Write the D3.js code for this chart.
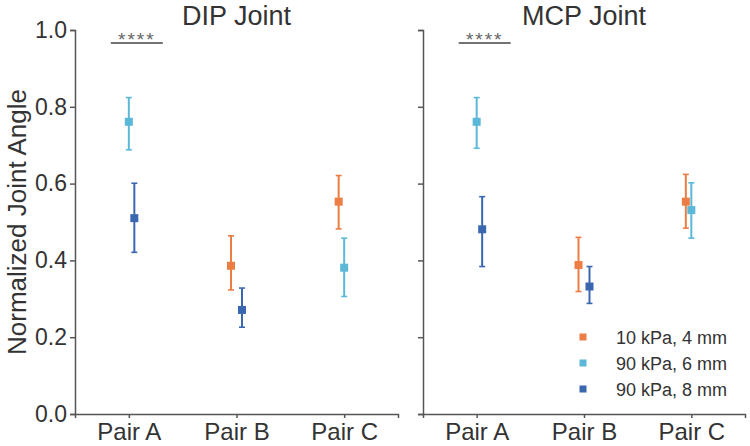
<!DOCTYPE html>
<html>
<head>
<meta charset="utf-8">
<script src="https://cdn.jsdelivr.net/npm/d3@7"></script>
<style>
  body { margin: 0; background: #fff; }
  svg { font-family: "Liberation Sans", Arial, sans-serif; }
</style>
</head>
<body>
<div id="chart"></div>
<script>
const pairs = ["Pair A", "Pair B", "Pair C"];
const seriesNames = ["10 kPa, 4 mm", "90 kPa, 6 mm", "90 kPa, 8 mm"];
const seriesColors = ["#ec7d45", "#5bb8d8", "#3a68b0"];
const yTicks = [0.0, 0.2, 0.4, 0.6, 0.8, 1.0];

// [pair, series, mean, low, high]
const dipPoints = [
  ["Pair A", 1, 0.761, 0.688, 0.824],
  ["Pair A", 2, 0.510, 0.421, 0.601],
  ["Pair B", 0, 0.386, 0.323, 0.464],
  ["Pair B", 2, 0.271, 0.226, 0.328],
  ["Pair C", 0, 0.553, 0.482, 0.621],
  ["Pair C", 1, 0.381, 0.306, 0.458],
];
const mcpPoints = [
  ["Pair A", 1, 0.761, 0.692, 0.824],
  ["Pair A", 2, 0.481, 0.384, 0.566],
  ["Pair B", 0, 0.388, 0.319, 0.460],
  ["Pair B", 2, 0.332, 0.288, 0.384],
  ["Pair C", 0, 0.553, 0.484, 0.624],
  ["Pair C", 1, 0.531, 0.458, 0.602],
];

const width = 750, height = 446;
const svg = d3.select("#chart").append("svg")
  .attr("width", width)
  .attr("height", height);

const y = d3.scaleLinear().domain([0, 1]).range([414, 30]);
const dodge = d3.scalePoint().domain([0, 1, 2]).range([-5.5, 5.5]);
const axisColor = "#555";
const textColor = "#333";

const drawPanel = (left, right, title, points, showLabels) => {
  const x = d3.scalePoint().domain(pairs).range([left, right]).padding(0.5);

  // x axis
  const xg = svg.append("g")
    .attr("transform", `translate(0,${y(0)})`)
    .call(d3.axisBottom(x).tickSizeOuter(0).tickSize(4).tickPadding(5));
  xg.select(".domain").attr("stroke", axisColor).attr("stroke-width", 1.5);
  xg.selectAll(".tick line").attr("stroke", axisColor).attr("stroke-width", 1.5);
  xg.selectAll(".tick text").attr("fill", textColor).style("font-size", "24px");

  // y axis
  const yg = svg.append("g")
    .attr("transform", `translate(${left},0)`)
    .call(d3.axisLeft(y).tickValues(yTicks).tickSizeOuter(0).tickSize(5).tickPadding(3)
      .tickFormat(showLabels ? d3.format(".1f") : () => ""));
  yg.select(".domain").attr("stroke", axisColor).attr("stroke-width", 1.5);
  yg.selectAll(".tick line").attr("stroke", axisColor).attr("stroke-width", 1.5);
  yg.selectAll(".tick text").attr("fill", textColor).style("font-size", "23px");

  // title
  svg.append("text")
    .attr("x", (left + right) / 2)
    .attr("y", 25)
    .attr("text-anchor", "middle")
    .attr("fill", textColor)
    .style("font-size", "27px")
    .text(title);

  // significance bar over Pair A
  const ax = x("Pair A");
  svg.append("line")
    .attr("x1", ax - 18).attr("x2", ax + 34)
    .attr("y1", 43).attr("y2", 43)
    .attr("stroke", "#444").attr("stroke-width", 1.3);
  svg.append("text")
    .attr("x", ax + 8).attr("y", 46)
    .attr("text-anchor", "middle")
    .attr("fill", "#666")
    .style("font-size", "19px")
    .style("letter-spacing", "2px")
    .text("****");

  // error bars + markers
  const g = svg.selectAll(null)
    .data(points)
    .enter()
    .append("g")
    .attr("transform", d => `translate(${x(d[0]) + dodge(d[1])},0)`)
    .attr("stroke", d => seriesColors[d[1]])
    .attr("fill", d => seriesColors[d[1]]);

  g.append("line")
    .attr("y1", d => y(d[3])).attr("y2", d => y(d[4]))
    .attr("stroke-width", 2);
  g.append("line")
    .attr("x1", -3).attr("x2", 3)
    .attr("y1", d => y(d[3])).attr("y2", d => y(d[3]))
    .attr("stroke-width", 1.6);
  g.append("line")
    .attr("x1", -3).attr("x2", 3)
    .attr("y1", d => y(d[4])).attr("y2", d => y(d[4]))
    .attr("stroke-width", 1.6);
  g.append("rect")
    .attr("x", -4).attr("y", d => y(d[2]) - 4)
    .attr("width", 8).attr("height", 8)
    .attr("stroke", "none");
};

drawPanel(75, 398, "DIP Joint", dipPoints, true);
drawPanel(423, 745, "MCP Joint", mcpPoints, false);

// y axis label
svg.append("text")
  .attr("transform", `translate(26,${y(0.5)}) rotate(-90)`)
  .attr("text-anchor", "middle")
  .attr("fill", textColor)
  .style("font-size", "26px")
  .text("Normalized Joint Angle");

// legend
const legend = svg.selectAll(null)
  .data(seriesNames)
  .enter()
  .append("g")
  .attr("transform", (d, i) => `translate(583,${337 + i * 26})`);
legend.append("rect")
  .attr("x", -3.5).attr("y", -3.5)
  .attr("width", 7).attr("height", 7)
  .attr("fill", (d, i) => seriesColors[i]);
legend.append("text")
  .attr("x", 33).attr("y", 6.5)
  .attr("fill", textColor)
  .style("font-size", "18px")
  .text(d => d);
</script>
</body>
</html>
